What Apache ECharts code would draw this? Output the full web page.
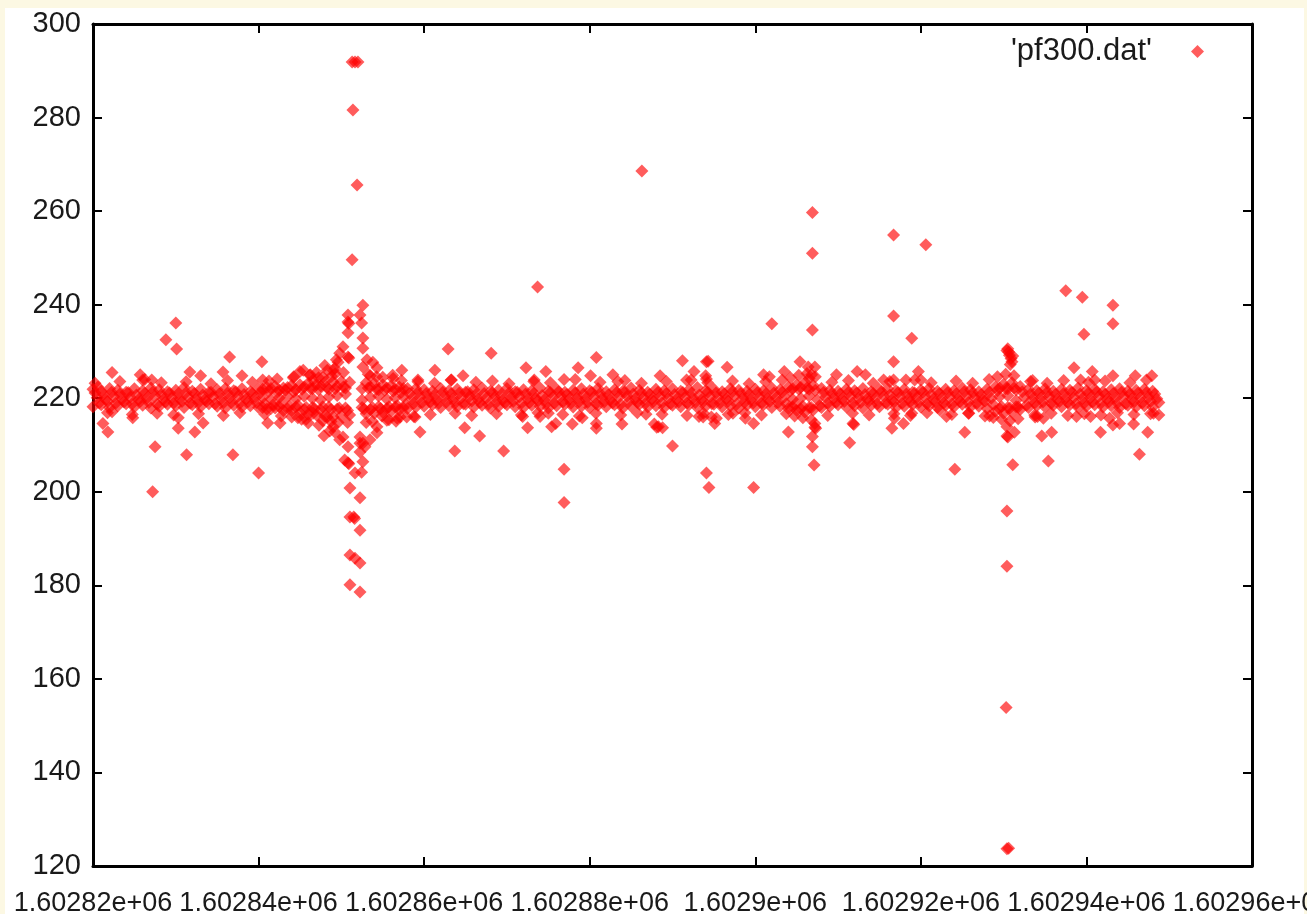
<!DOCTYPE html>
<html><head><meta charset="utf-8">
<script src="https://cdn.jsdelivr.net/npm/echarts@6/dist/echarts.min.js"></script>
<style>
html,body{margin:0;padding:0;background:#fcf8e3;width:1307px;height:914px;overflow:hidden;}
#panel{position:absolute;left:5px;top:8px;width:1299px;height:906px;background:#ffffff;}
#chart{position:absolute;left:0;top:0;width:1307px;height:914px;}
</style></head><body>
<div id="panel"></div><div id="chart"></div>
<script>
const seriesName = "'pf300.dat'";
const yTickValues = [120, 140, 160, 180, 200, 220, 240, 260, 280, 300];
const yTickLabels = ['120', '140', '160', '180', '200', '220', '240', '260', '280', '300'];
const xTickValues = [1602820, 1602840, 1602860, 1602880, 1602900, 1602920, 1602940, 1602960];
const xTickLabels = ['1.60282e+06', '1.60284e+06', '1.60286e+06', '1.60288e+06', '1.6029e+06', '1.60292e+06', '1.60294e+06', '1.60296e+06'];

// dense band: one sample per time unit starting at bandStart, interleaved rows
const bandStart = 1602820;
const bandHigh = [
221.9,221.5,222.1,221.7,221.3,222.0,221.6,222.2,221.8,221.4,
221.7,222.3,221.5,221.9,221.2,221.8,222.1,221.6,222.0,221.4,
222.0,222.3,222.5,222.2,222.7,222.9,223.2,222.9,223.4,223.5,
223.6,223.4,null,223.3,223.1,222.9,222.6,222.4,222.1,222.0,
221.8,221.5,222.1,221.6,221.9,221.3,221.8,222.2,221.5,221.7,
222.1,221.4,221.8,221.6,222.2,221.5,221.9,221.3,221.7,222.0,
221.6,222.1,221.4,221.8,221.5,222.2,221.7,221.3,221.9,221.6,
222.0,221.5,221.8,222.3,221.6,221.9,221.4,222.0,221.7,221.5,
221.9,221.6,222.2,221.8,222.4,222.9,223.4,222.7,222.1,221.7,
221.5,221.9,221.6,222.1,221.4,221.8,222.0,221.6,221.9,221.3,
221.7,222.1,221.5,221.9,221.6,222.2,221.8,221.4,221.9,222.4,
223.0,223.3,222.5,221.9,221.6,222.0,221.5,221.9,221.7,222.2,
221.6,221.9,221.4,221.8,222.0,221.5,221.7,221.9,221.5];
const bandUpperMid = [
221.1,220.8,221.3,220.9,221.2,220.7,221.0,221.4,220.8,221.1,
220.9,221.2,221.0,220.7,221.3,220.9,221.1,221.4,220.8,221.0,
221.2,221.5,221.3,221.7,221.4,221.9,222.1,221.8,222.3,222.0,
222.4,null,null,222.2,221.9,221.7,221.5,221.3,221.0,221.2,
221.0,220.7,221.3,220.9,221.1,221.4,220.8,221.0,221.2,220.7,
221.1,221.3,220.9,221.0,220.6,221.2,221.4,220.8,221.1,220.9,
221.3,221.0,220.7,221.2,221.4,220.9,221.1,220.8,221.3,221.0,
220.8,221.2,221.0,220.7,221.3,221.1,220.9,221.4,221.0,220.8,
221.2,220.9,221.1,221.3,221.6,221.9,222.2,221.7,221.2,221.0,
220.9,221.3,221.1,220.8,221.0,221.4,220.7,221.2,220.9,221.1,
221.3,220.8,221.0,221.2,220.9,221.4,221.1,220.7,221.2,221.6,
222.0,222.2,221.4,220.9,221.1,221.3,220.8,221.0,221.2,220.9,
221.1,221.4,220.8,221.0,221.3,220.9,221.1,221.2,220.9];
const bandMid = [
220.1,219.8,220.3,219.9,220.2,219.7,220.0,220.4,219.8,220.1,
219.9,220.2,220.0,219.7,220.3,219.9,220.1,220.4,219.8,220.0,
220.2,219.8,220.1,220.3,219.9,220.4,220.0,219.7,220.3,220.6,
220.9,null,219.6,220.2,220.5,219.8,220.1,220.3,219.9,220.2,
220.0,219.7,220.3,219.9,220.1,220.4,219.8,220.0,220.2,219.7,
220.1,220.3,219.9,220.0,219.6,220.2,220.4,219.8,220.1,219.9,
220.3,220.0,219.7,220.2,220.4,219.9,220.1,219.8,220.3,220.0,
219.8,220.2,220.0,219.7,220.3,220.1,219.9,220.4,220.0,219.8,
220.2,219.9,220.1,220.3,219.8,220.0,220.5,219.7,220.2,220.0,
219.9,220.3,220.1,219.8,220.0,220.4,219.7,220.2,219.9,220.1,
220.3,219.8,220.0,220.2,219.9,220.4,220.1,219.7,220.0,220.3,
220.6,219.5,220.2,219.9,220.1,220.3,219.8,220.0,220.2,219.9,
220.1,220.4,219.8,220.0,220.3,219.9,220.1,220.2,219.9];
const bandLowerMid = [
219.0,219.3,218.9,219.2,218.8,219.4,219.1,218.7,219.2,219.0,
219.3,218.9,219.1,219.4,218.8,219.0,219.2,218.9,219.3,219.1,
218.8,218.6,218.9,218.4,218.5,218.0,217.8,218.2,217.6,217.9,
217.4,null,217.7,218.0,217.8,218.2,218.4,218.6,218.9,219.1,
219.2,218.9,219.3,219.0,218.8,219.4,219.1,218.7,219.2,219.0,
219.3,218.9,219.1,219.4,218.8,219.0,219.2,218.9,219.3,219.1,
218.8,219.2,219.0,218.7,219.3,219.1,218.9,219.4,219.0,218.8,
219.2,218.9,219.1,219.3,218.8,219.0,219.4,218.7,219.2,219.0,
218.9,219.3,219.1,218.8,218.6,218.3,218.0,218.4,218.9,219.1,
219.3,218.9,219.1,219.4,218.8,219.0,219.2,218.9,219.3,219.1,
218.8,219.2,219.0,218.7,219.3,219.1,218.9,219.4,218.6,218.2,
217.9,218.1,218.5,219.0,219.2,218.9,219.3,219.1,218.8,219.0,
219.2,218.9,219.3,219.0,218.8,219.2,219.0,219.3,219.1];
const bandLow = [
218.2,218.6,218.0,218.4,218.8,218.1,218.5,217.9,218.3,218.7,
218.4,218.0,218.6,218.2,218.8,218.3,217.9,218.5,218.1,218.4,
218.0,217.7,217.9,217.4,217.3,216.9,216.6,216.4,216.2,216.0,
216.2,216.4,null,216.7,216.8,217.0,217.2,217.5,217.8,218.1,
218.3,218.6,218.0,218.4,218.2,218.7,218.1,218.5,217.9,218.3,
218.6,218.2,218.0,218.5,218.3,217.9,218.4,218.7,218.1,218.3,
218.0,218.5,218.2,218.6,217.9,218.3,218.7,218.1,218.4,218.0,
218.5,218.2,218.6,218.0,218.3,218.7,218.1,218.4,217.9,218.5,
218.2,218.6,218.0,218.3,217.8,217.4,217.0,217.5,218.0,218.3,
218.6,218.1,218.4,217.9,218.5,218.2,218.7,218.0,218.3,218.6,
218.1,218.4,218.0,218.5,218.2,218.7,218.1,218.3,217.8,217.2,
216.8,217.0,217.6,218.0,218.4,218.1,218.5,218.2,218.6,218.0,
218.3,218.6,218.1,218.4,218.0,218.5,218.2,218.4,218.1];
// sparse fringe just above and below the band
const haloHigh = [
223.2,null,null,223.6,null,null,224.0,null,223.3,null,
null,223.5,null,null,223.1,null,223.8,null,null,223.4,
null,223.7,224.1,null,224.6,null,225.0,224.4,null,225.2,
225.5,null,null,225.1,224.6,null,224.2,223.8,null,223.5,
null,223.2,null,223.9,null,null,223.4,null,223.7,null,
223.1,null,null,223.6,null,223.3,null,null,224.0,null,
null,223.4,null,null,223.8,null,223.2,null,null,223.6,
null,null,223.9,null,223.3,null,null,223.7,null,223.1,
null,223.5,null,223.9,224.4,224.9,225.3,224.6,null,223.4,
null,223.8,null,null,223.2,null,223.6,null,null,223.9,
null,223.3,null,null,223.7,null,223.2,null,224.0,224.6,
225.1,224.8,null,223.6,null,223.2,null,223.8,null,null,
223.4,null,223.7,null,null,223.3,null,223.9,null];
const haloLow = [
null,216.9,null,null,216.5,null,null,216.8,null,216.4,
null,null,216.7,null,null,216.3,null,216.9,null,null,
216.6,null,216.2,null,215.8,215.5,null,215.2,215.0,null,
214.8,null,null,215.1,null,215.4,215.7,null,216.1,null,
216.5,null,null,216.8,null,216.3,null,null,216.7,null,
null,216.4,null,216.9,null,null,216.5,null,216.2,null,
216.8,null,null,216.4,null,216.9,null,null,216.6,null,
null,216.3,null,216.8,null,null,216.5,null,216.9,null,
216.4,null,null,216.7,216.2,215.8,215.4,null,216.3,null,
null,216.8,null,216.4,null,null,216.7,null,216.3,null,
216.9,null,null,216.5,null,216.8,null,216.2,215.9,215.5,
215.2,215.6,null,216.4,null,216.8,null,216.3,null,216.7,
null,216.4,null,216.9,null,216.5,null,216.7,216.4];

// extra samples where the band is wider
const bandWideHigh = [
[1602840.5,221.9],[1602841.5,222.1],[1602842.5,221.7],[1602843.5,222.3],[1602844.5,221.8],[1602845.5,222.4],
[1602846.5,222.0],[1602847.5,222.6],[1602848.5,221.9],[1602849.5,222.5],[1602850.5,222.2],[1602852.5,222.0],
[1602853.5,222.4],[1602854.5,221.8],[1602855.5,222.2],[1602856.5,221.9],[1602857.5,222.1],
[1602904.5,222.0],[1602905.5,222.3],[1602906.5,221.9],[1602929.5,222.2],[1602930.5,222.0],[1602931.5,221.8],
[1602844.2,224.4],[1602846.2,224.9],[1602847.0,225.5],[1602848.0,227.0],[1602848.8,224.7],[1602849.8,229.6],
[1602853.5,224.8],[1602855.0,224.5],[1602856.2,224.9]];
const bandWideLow = [
[1602840.5,218.0],[1602841.5,217.8],[1602842.5,218.2],[1602843.5,217.7],[1602844.5,218.1],[1602845.5,217.6],
[1602846.5,218.0],[1602847.5,217.5],[1602848.5,218.1],[1602849.5,217.7],[1602850.5,217.9],[1602852.5,218.0],
[1602853.5,217.6],[1602854.5,218.2],[1602855.5,217.8],[1602856.5,218.1],[1602857.5,217.9],
[1602904.5,218.1],[1602905.5,217.7],[1602906.5,218.0],[1602929.5,217.8],[1602930.5,218.0],[1602931.5,218.2],
[1602844.0,216.0],[1602845.2,215.5],[1602847.3,214.2],[1602847.9,212.0],[1602848.6,213.0],[1602849.6,214.8],
[1602853.0,214.8],[1602854.9,216.2],[1602856.6,215.1]];

// burst near 1602851
const spike851 = [
[1602851.3,291.9],[1602851.65,291.9],[1602852.0,291.9],
[1602851.4,281.6],[1602851.9,265.6],[1602851.3,249.6],
[1602852.6,239.9],[1602850.8,237.8],[1602852.25,237.8],[1602850.8,236.3],[1602850.9,236.0],[1602852.45,236.1],
[1602850.8,234.0],[1602852.6,232.9],[1602850.2,231.0],[1602852.6,230.7],[1602850.8,228.8],[1602850.9,228.6],
[1602853.1,228.2],[1602849.6,227.7],[1602853.8,227.7],[1602852.6,226.7],[1602854.3,226.5],[1602849.2,226.4],
[1602849.0,226.0],[1602848.3,226.0],[1602845.4,226.0],[1602847.8,224.5],[1602846.6,223.9],
[1602849.2,212.8],[1602849.0,213.9],[1602849.8,211.1],[1602850.2,211.7],[1602850.8,209.6],[1602848.3,216.0],
[1602846.6,216.8],[1602846.0,214.7],[1602852.25,211.7],[1602852.25,210.4],[1602852.85,209.6],[1602852.25,208.5],
[1602853.46,211.1],[1602854.3,213.9],[1602855.5,215.3],[1602857.1,216.0],[1602857.9,216.0],[1602858.9,216.0],
[1602854.3,212.6],[1602852.6,210.4],[1602852.6,206.4],[1602850.4,206.8],[1602850.8,206.2],[1602850.9,206.0],
[1602851.65,204.0],[1602852.45,204.2],[1602851.04,200.8],[1602852.25,198.7],[1602851.04,194.6],[1602851.5,194.6],
[1602851.6,194.3],[1602852.25,191.8],[1602851.04,186.5],[1602851.65,185.8],[1602852.25,184.8],[1602851.04,180.1],
[1602852.25,178.6],[1602857.3,226.0],[1602859.25,223.9],[1602861.3,226.0],[1602862.9,230.5],[1602859.5,212.8]];

// burst near 1602930
const spike930 = [
[1602930.5,230.6],[1602930.6,229.9],[1602930.7,229.2],[1602930.9,228.5],[1602931.0,227.8],[1602930.8,227.2],
[1602930.4,230.2],[1602931.1,229.0],[1602930.4,213.9],[1602930.4,211.9],[1602930.5,211.7],[1602931.3,212.7],
[1602931.1,205.8],[1602930.4,195.9],[1602930.4,184.1],[1602930.3,153.9],[1602930.4,123.7],[1602930.6,123.8]];

// isolated points and halo around the band
const outliers = [
[1602822.3,225.5],[1602825.7,225.0],[1602826.0,223.9],[1602827.1,223.9],[1602828.8,232.5],[1602830.0,236.1],
[1602830.1,230.5],[1602831.7,225.6],[1602833.0,224.8],[1602836.5,228.8],[1602835.7,225.6],[1602838.0,224.8],
[1602840.4,227.8],[1602840.5,223.9],[1602845.0,225.7],[1602849.4,228.2],[1602820.6,222.4],[1602822.3,217.1],
[1602824.8,215.8],[1602821.2,214.6],[1602821.8,212.8],[1602830.3,215.8],[1602830.3,213.6],[1602833.3,214.7],
[1602832.3,212.8],[1602827.5,209.6],[1602827.2,200.0],[1602831.3,207.9],[1602836.9,207.9],[1602840.0,204.0],
[1602841.1,214.7],[1602842.6,214.7],
[1602886.3,268.6],[1602873.7,243.8],[1602868.1,229.6],[1602864.7,224.8],[1602863.3,223.9],[1602872.3,226.5],
[1602874.7,225.7],[1602878.6,226.5],[1602880.8,228.7],[1602880.1,224.8],[1602873.3,223.9],[1602876.9,224.0],
[1602882.8,225.0],[1602883.4,223.6],[1602888.5,224.8],[1602891.2,228.0],[1602892.6,225.7],[1602891.7,223.9],
[1602864.9,213.7],[1602866.7,211.9],[1602863.7,208.7],[1602869.6,208.7],[1602872.5,213.7],[1602871.9,216.1],
[1602874.0,216.1],[1602875.0,216.8],[1602875.4,213.9],[1602875.9,214.6],[1602877.9,214.5],[1602879.1,215.8],
[1602880.8,214.6],[1602880.8,213.6],[1602883.9,214.5],[1602886.8,216.6],[1602887.8,214.5],[1602888.3,213.9],
[1602888.8,213.7],[1602888.1,213.8],[1602890.0,209.8],[1602876.9,204.8],[1602876.9,197.7],[1602893.2,216.1],
[1602894.1,227.8],[1602894.3,227.9],[1602894.0,224.8],[1602894.1,224.1],[1602896.6,226.6],[1602903.5,225.7],
[1602905.4,227.8],[1602901.0,225.0],[1602901.7,224.6],[1602895.3,215.7],[1602898.8,215.7],[1602899.8,214.6],
[1602904.0,212.8],
[1602906.9,259.7],[1602906.9,251.0],[1602906.9,234.6],[1602916.7,254.9],[1602920.6,252.8],[1602916.7,237.6],
[1602918.9,232.8],[1602916.7,227.8],[1602902.0,235.9],[1602906.4,226.7],[1602907.2,226.7],[1602906.8,225.0],
[1602906.5,224.2],[1602909.8,225.0],[1602912.3,225.7],[1602913.3,225.0],[1602915.5,223.9],[1602916.7,223.9],
[1602918.2,223.9],[1602919.7,225.7],[1602920.0,223.9],[1602895.1,214.6],[1602894.7,216.0],[1602893.7,216.0],
[1602897.3,216.8],[1602907.2,214.6],[1602907.2,213.8],[1602907.3,213.6],[1602906.9,211.8],[1602906.9,209.6],
[1602907.1,205.7],[1602911.8,214.6],[1602911.9,214.4],[1602911.4,210.5],[1602916.5,213.6],[1602916.8,215.7],
[1602917.9,214.6],[1602918.9,216.8],[1602922.3,217.5],[1602923.1,216.1],[1602924.1,204.8],[1602894.1,204.0],
[1602894.4,200.9],[1602899.8,200.9],
[1602925.3,212.7],[1602925.8,216.8],[1602928.3,216.2],[1602933.5,223.8],[1602934.1,216.1],[1602933.8,216.0],
[1602934.8,215.7],[1602937.5,243.0],[1602939.5,241.6],[1602943.2,239.9],[1602943.2,235.9],[1602939.7,233.7],
[1602938.5,226.5],[1602940.7,225.7],[1602941.0,223.9],[1602939.3,223.9],[1602943.2,224.8],[1602945.9,224.8],
[1602947.9,224.8],[1602934.6,211.9],[1602935.8,212.7],[1602935.4,206.6],[1602938.8,216.1],[1602940.5,216.1],
[1602941.7,212.7],[1602942.8,215.7],[1602943.2,214.3],[1602944.0,214.6],[1602945.7,214.5],[1602947.4,212.7],
[1602946.4,208.0],[1602948.1,216.8]];

function rowPoints(values, offset) {
  const out = [];
  values.forEach((v, i) => { if (v !== null) out.push([bandStart + i + offset, v]); });
  return out;
}
const allPoints = [].concat(
  rowPoints(bandHigh, 0), rowPoints(bandUpperMid, 0.25), rowPoints(bandMid, 0.5),
  rowPoints(bandLowerMid, 0.75), rowPoints(bandLow, 0),
  rowPoints(haloHigh, 0.25), rowPoints(haloLow, 0.75),
  bandWideHigh, bandWideLow, spike851, spike930, outliers);

const FONT = 'Liberation Sans';
const tickLine = { show: true, inside: true, length: 9, lineStyle: { color: '#000', width: 2 } };
const axisLine = { show: true, lineStyle: { color: '#000', width: 3 } };

const chart = echarts.init(document.getElementById('chart'), null, { renderer: 'canvas' });
chart.setOption({
  backgroundColor: 'transparent',
  animation: false,
  grid: { left: 93, top: 24, right: 55, bottom: 48, containLabel: false, outerBoundsMode: 'none' },
  legend: {
    data: [seriesName], right: 103, top: 36, padding: 0, align: 'right',
    itemWidth: 13, itemHeight: 13,
    textStyle: { fontFamily: FONT, fontSize: 31, color: '#1a1a1a', padding: [0, 34, 0, 0] }
  },
  xAxis: [{
    type: 'value', min: 1602820, max: 1602960, interval: 20, position: 'bottom',
    axisLine: axisLine, axisTick: tickLine, splitLine: { show: false },
    axisLabel: {
      margin: 24, fontFamily: FONT, fontSize: 27, color: '#1a1a1a',
      showMinLabel: true, showMaxLabel: true, hideOverlap: false,
      formatter: v => { const k = xTickValues.indexOf(v); return k >= 0 ? xTickLabels[k] : ''; }
    }
  }, {
    type: 'value', min: 1602820, max: 1602960, interval: 20, position: 'top',
    axisLine: axisLine, axisTick: tickLine, splitLine: { show: false }, axisLabel: { show: false }
  }],
  yAxis: [{
    type: 'value', min: 120, max: 300, interval: 20, position: 'left',
    axisLine: axisLine, axisTick: tickLine, splitLine: { show: false },
    axisLabel: {
      margin: 12, fontFamily: FONT, fontSize: 29, color: '#1a1a1a',
      showMinLabel: true, showMaxLabel: true,
      formatter: v => { const k = yTickValues.indexOf(v); return k >= 0 ? yTickLabels[k] : ''; }
    }
  }, {
    type: 'value', min: 120, max: 300, interval: 20, position: 'right',
    axisLine: axisLine, axisTick: tickLine, splitLine: { show: false }, axisLabel: { show: false }
  }],
  series: [{
    name: seriesName, type: 'scatter', xAxisIndex: 0, yAxisIndex: 0,
    symbol: 'diamond', symbolSize: 13, clip: false,
    itemStyle: { color: 'rgba(255,0,0,0.8)' },
    data: allPoints
  }]
});
</script>
</body></html>
